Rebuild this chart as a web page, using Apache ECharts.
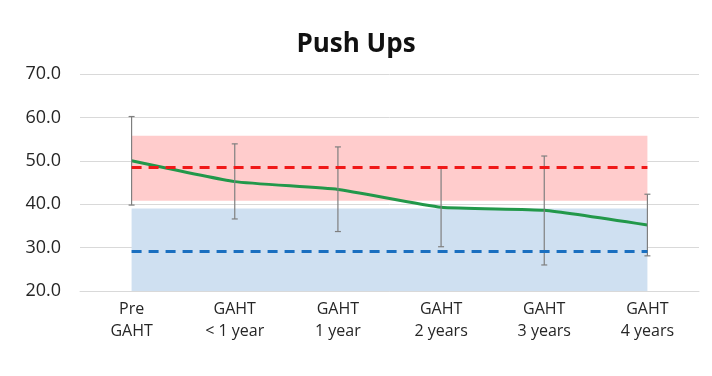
<!DOCTYPE html>
<html>
<head>
<meta charset="utf-8">
<script src="https://cdn.jsdelivr.net/npm/echarts@6/dist/echarts.min.js"></script>
<style>
	html, body { margin: 0; padding: 0; background: #fff; }
	#main { width: 712px; height: 376px; }
</style>
</head>
<body>
<div id="main"></div>
<script>
var categories = ['Pre\nGAHT', 'GAHT\n< 1 year', 'GAHT\n1 year', 'GAHT\n2 years', 'GAHT\n3 years', 'GAHT\n4 years'];
var pushUps = [50.0, 45.2, 43.4, 39.3, 38.6, 35.2];
var errLow = [39.8, 36.6, 33.7, 30.2, 26.0, 28.1];
var errHigh = [60.2, 53.9, 53.2, 48.6, 51.1, 42.3];
var yTicks = [20, 30, 40, 50, 60, 70];

// reference bands (pink = upper, blue = lower) and their dashed means
var pinkBand = [40.8, 55.8];
var blueBand = [19.2, 39.0];
var pinkMean = 48.6;
var blueMean = 29.1;

var errData = [];
for(var i = 0; i < categories.length; i++) errData.push([i, errLow[i], errHigh[i]]);

var mychart = echarts.init(document.getElementById('main'));
var labelFont = 'Open Sans';
var option = {
	animation: false,
	title: {
		text: 'Push Ups',
		left: 'center',
		top: 27,
		textStyle: {
			fontFamily: labelFont,
			fontSize: 26,
			fontWeight: 'bold',
			color: '#111'
		}
	},
	grid: {
		left: 80,
		right: 13,
		top: 74,
		bottom: 85
	},
	xAxis: {
		type: 'category',
		data: categories,
		boundaryGap: true,
		axisLine: { show: true, lineStyle: { color: '#d9d9d9', width: 1 } },
		axisTick: { show: false },
		axisLabel: {
			fontFamily: labelFont,
			fontSize: 16,
			color: '#262626',
			lineHeight: 22,
			margin: 7,
			interval: 0
		}
	},
	yAxis: {
		type: 'value',
		min: yTicks[0],
		max: yTicks[yTicks.length - 1],
		interval: 10,
		axisLine: { show: false },
		axisTick: { show: false },
		splitLine: { lineStyle: { color: '#d9d9d9', width: 1 } },
		axisLabel: {
			fontFamily: labelFont,
			fontSize: 18,
			color: '#262626',
			margin: 19,
			formatter: function(v) { return v.toFixed(1); }
		}
	},
	series: [{
		name: 'bands',
		type: 'line',
		data: [],
		silent: true,
		markArea: {
			silent: true,
			data: [
				[{ xAxis: 0, yAxis: pinkBand[0], itemStyle: { color: '#ffcccc' } }, { xAxis: 5, yAxis: pinkBand[1] }],
				[{ xAxis: 0, yAxis: blueBand[0], itemStyle: { color: '#cfe0f1' } }, { xAxis: 5, yAxis: blueBand[1] }]
			]
		},
		markLine: {
			silent: true,
			symbol: 'none',
			label: { show: false },
			data: [
				[{ coord: [0, pinkMean], lineStyle: { color: '#f01818', width: 3, type: [10, 7] } }, { coord: [5, pinkMean] }],
				[{ coord: [0, blueMean], lineStyle: { color: '#1a6fc0', width: 3, type: [10, 7] } }, { coord: [5, blueMean] }]
			]
		}
	}, {
		name: 'Push Ups',
		type: 'line',
		data: pushUps,
		smooth: 0.15,
		symbol: 'none',
		z: 3,
		lineStyle: { color: '#22984a', width: 3 }
	}, {
		name: 'error',
		type: 'custom',
		data: errData,
		z: 4,
		renderItem: function(params, api) {
			var x = api.value(0);
			var lo = api.coord([x, api.value(1)]);
			var hi = api.coord([x, api.value(2)]);
			var cap = 3;
			var style = { stroke: '#7f7f7f', lineWidth: 1.2 };
			return {
				type: 'group',
				children: [
					{ type: 'line', shape: { x1: lo[0], y1: lo[1], x2: hi[0], y2: hi[1] }, style: style },
					{ type: 'line', shape: { x1: lo[0] - cap, y1: lo[1], x2: lo[0] + cap, y2: lo[1] }, style: style },
					{ type: 'line', shape: { x1: hi[0] - cap, y1: hi[1], x2: hi[0] + cap, y2: hi[1] }, style: style }
				]
			};
		}
	}]
};
mychart.setOption(option);
</script>
</body>
</html>
